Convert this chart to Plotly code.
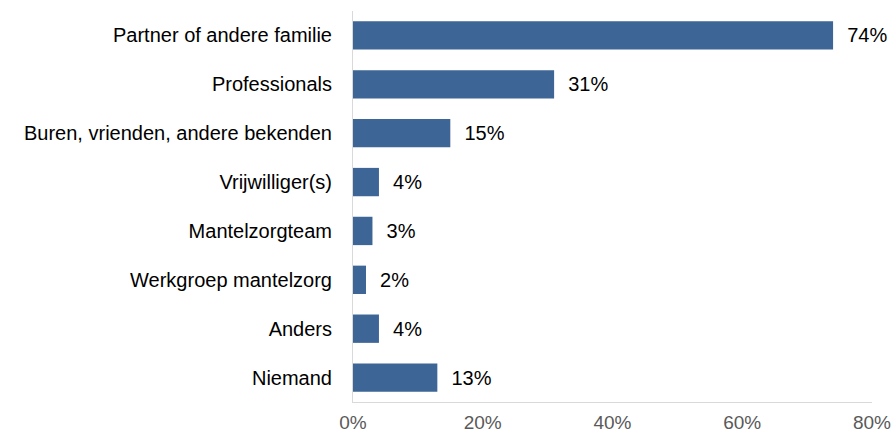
import plotly.graph_objects as go

categories = ["Partner of andere familie", "Professionals", "Buren, vrienden, andere bekenden",
              "Vrijwilliger(s)", "Mantelzorgteam", "Werkgroep mantelzorg", "Anders", "Niemand"]
values = [74, 31, 15, 4, 3, 2, 4, 13]
tick_vals = [0, 20, 40, 60, 80]
tick_text = ["0%", "20%", "40%", "60%", "80%"]

fig = go.Figure(go.Bar(
    y=categories, x=values, orientation="h",
    marker=dict(color="#3D6595", line=dict(width=0)),
    text=["\u00a0\u00a0" + f"{v}%" for v in values],
    textposition="outside", cliponaxis=False,
    textfont=dict(family="Liberation Sans, Arial", size=20, color="#000000"),
))
fig.update_layout(
    width=896, height=435,
    margin=dict(l=353, r=24, t=11, b=33, autoexpand=False),
    paper_bgcolor="white", plot_bgcolor="white",
    bargap=0.42, showlegend=False,
    font=dict(family="Liberation Sans, Arial", size=20, color="#000000"),
)
fig.update_yaxes(autorange="reversed", showgrid=False, showline=True, linecolor="#D9D9D9",
                 linewidth=1, ticks="", ticklabelstandoff=16, automargin=False,
                 tickfont=dict(size=20, color="#000000"))
fig.update_xaxes(range=[0, 80], tickvals=tick_vals, ticktext=tick_text, showgrid=False,
                 zeroline=False, showline=True, linecolor="#D9D9D9", linewidth=1, ticks="",
                 automargin=False, tickfont=dict(size=19, color="#595959"), ticklabelstandoff=3)
fig.write_html("out.html", config={"displayModeBar": False},
               post_script="document.body.style.margin='0';document.body.style.padding='0';")
